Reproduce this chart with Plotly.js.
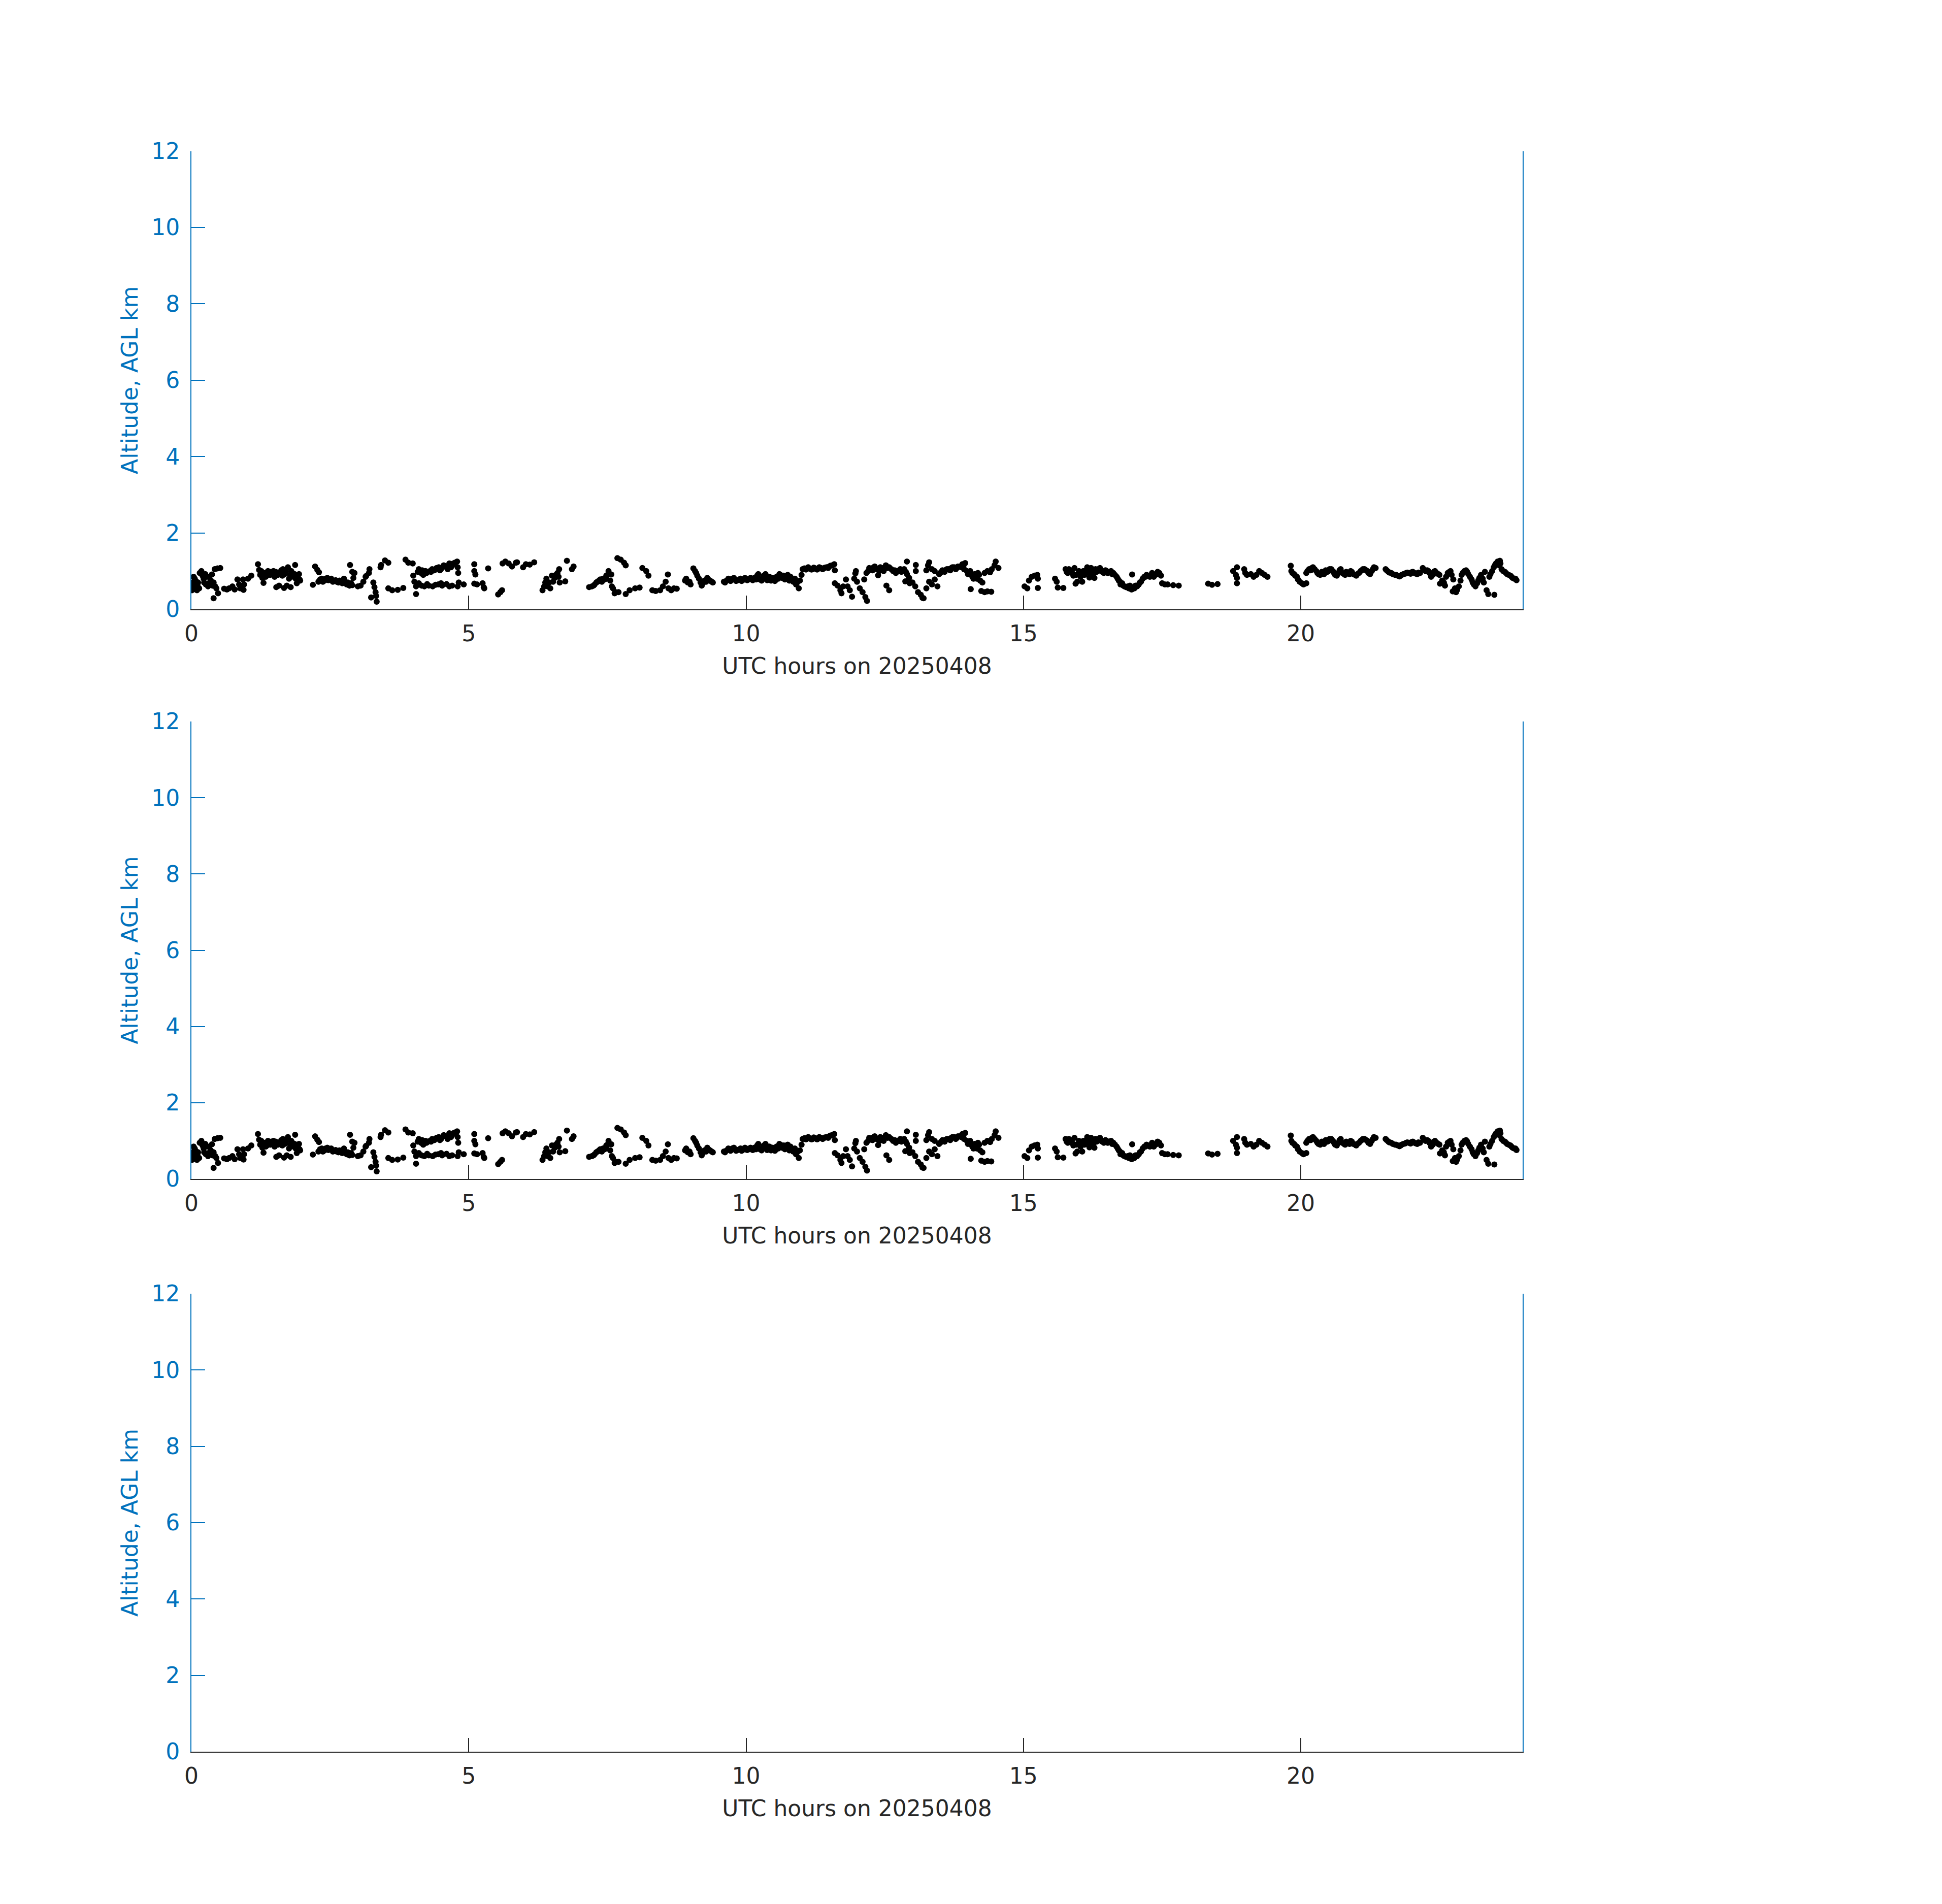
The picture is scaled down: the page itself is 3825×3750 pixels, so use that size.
<!DOCTYPE html>
<html>
<head>
<meta charset="utf-8">
<script src="https://cdn.plot.ly/plotly-3.0.1.min.js"></script>
<style>html,body{margin:0;padding:0;background:#fff;}</style>
</head>
<body>
<div id="chart" style="width:3825px;height:3750px;"></div>
<script>
// ---- data ----
const xTitle = "UTC hours on 20250408";
const yTitle = "Altitude, AGL km";
const xTickVals = [0, 5, 10, 15, 20];
const xTickText = ["0", "5", "10", "15", "20"];
const yTickVals = [0, 2, 4, 6, 8, 10, 12];
const yTickText = ["0", "2", "4", "6", "8", "10", "12"];

const utcHours = [
0.0,0.01,0.02,0.03,0.05,0.06,0.07,0.08,0.1,0.12,
0.15,0.18,0.2,0.22,
0.25,0.28,0.3,0.33,0.35,0.37,0.4,0.4,0.43,0.45,0.48,
0.42,0.47,0.52,
0.59,0.64,0.68,
0.74,0.78,0.83,0.86,0.88,0.93,0.94,0.95,
1.02,1.08,
1.2,1.22,
1.24,1.28,1.3,1.32,1.36,1.4,1.44,1.48,1.5,1.53,1.56,
1.6,1.62,1.65,1.67,1.7,1.72,1.74,1.76,1.78,1.79,1.8,1.84,1.87,1.88,1.9,1.92,1.95,1.96,
2.19,2.23,2.27,2.3,
2.29,2.35,2.4,2.45,2.5,2.55,2.6,2.65,2.7,2.75,2.8,2.85,2.86,2.9,2.9,2.92,2.94,3.0,
3.05,3.1,3.14,3.15,3.2,3.21,
3.24,3.28,3.3,3.32,3.33,3.34,
3.41,3.42,3.49,3.55,
3.55,3.62,3.72,3.82,
3.86,3.91,3.99,
4.0,4.02,4.05,4.05,4.1,4.1,4.14,4.15,4.18,4.2,4.22,4.26,4.28,4.3,4.34,4.35,4.38,4.42,4.45,4.46,4.5,4.52,4.55,4.6,4.6,4.65,4.7,4.7,
4.79,4.8,4.81,4.8,4.82,4.91,
5.1,5.1,5.12,5.1,5.15,5.25,5.27,5.28,5.35,
5.53,5.57,5.6,
5.61,5.66,5.72,5.78,5.85,5.87,
5.98,6.03,6.1,6.18,
6.33,6.36,6.4,6.45,6.47,6.5,6.55,6.6,6.63,6.64,6.74,
6.77,6.86,6.89,
7.17,7.22,7.27,7.32,7.37,7.42,7.47,7.5,7.52,7.55,7.57,7.58,7.6,7.63,7.65,7.7,
7.68,7.74,7.8,7.83,
7.83,7.9,8.0,8.08,
8.13,8.2,8.24,
8.31,8.37,8.45,8.5,8.55,8.59,8.6,8.65,8.7,8.75,
8.9,8.95,9.0,9.05,9.08,9.1,9.15,9.2,9.25,9.3,9.35,9.4,
9.6,9.65,9.7,9.75,9.8,9.85,9.9,9.95,10.0,10.05,10.1,10.15,10.2,10.25,10.3,10.35,10.4,10.45,10.5,10.55,10.6,10.62,10.65,10.7,10.75,10.78,10.8,10.85,10.9,10.95,10.97,11.0,11.02,
11.05,11.1,11.15,11.2,11.25,11.3,11.35,11.4,11.45,11.5,11.55,11.59,11.6,
11.6,11.65,11.7,11.72,11.75,11.8,11.83,11.87,11.91,11.95,11.97,11.98,12.0,12.05,12.1,12.13,12.15,12.18,
12.17,12.2,12.25,12.3,12.35,12.38,12.4,12.45,12.5,12.52,12.55,
12.53,12.58,
12.58,12.65,12.7,12.75,12.8,12.85,12.9,12.9,12.94,13.06,13.06,
12.87,12.95,13.0,
13.05,13.1,13.15,13.18,13.2,13.25,13.3,13.35,13.4,13.45,
13.25,13.28,13.3,13.35,13.4,
13.48,13.52,13.56,13.6,13.65,13.7,13.75,13.8,13.85,13.9,13.95,
13.93,13.98,14.02,14.06,14.1,14.14,14.18,14.22,14.26,
14.05,14.24,14.3,14.35,14.42,
14.3,14.35,14.4,
14.43,14.48,14.5,14.55,
15.02,15.07,15.1,15.15,15.2,15.25,15.26,15.26,
15.57,15.6,15.62,15.72,
15.76,15.8,15.85,15.9,15.92,15.94,15.95,15.97,16.0,16.03,16.06,16.08,16.1,16.15,16.19,16.2,16.25,16.28,16.3,16.35,16.4,16.45,16.5,16.55,16.6,16.65,16.68,16.72,16.75,16.8,16.85,16.9,16.95,16.96,17.0,17.05,17.08,17.12,17.15,17.2,17.25,17.3,17.35,17.4,17.45,17.48,17.5,17.55,17.6,17.7,17.8,
18.33,18.4,18.5,
18.78,18.83,18.85,18.85,18.85,18.98,19.0,19.03,
19.1,19.15,19.2,19.25,19.3,19.35,19.4,
19.82,19.83,19.88,19.93,19.98,20.05,20.1,
20.1,20.15,20.2,20.25,20.3,20.35,20.4,20.45,20.5,20.55,20.6,20.65,20.7,20.75,20.8,20.85,20.9,20.95,21.0,21.05,21.1,21.15,21.2,21.25,21.3,21.35,
21.53,21.58,21.63,21.7,21.75,21.8,21.85,21.9,21.95,22.0,22.05,22.1,22.15,
22.2,22.25,22.3,22.35,22.4,22.45,22.5,22.51,22.55,22.6,22.62,22.65,22.7,22.74,22.75,22.78,22.8,22.82,22.85,22.9,22.95,23.0,23.05,23.1,23.15,23.2,23.25,23.3,23.32,23.35,23.38,23.49,
23.4,23.45,23.5,23.55,23.59,23.6,23.62,23.65,23.7,23.75,23.8,23.85,23.89,
// additional points in dense stretches
0.04,0.09,0.11,0.14,0.23,0.26,0.32,0.38,
1.26,1.34,1.38,1.42,1.46,1.52,1.58,1.64,1.68,1.82,1.86,1.94,
2.32,2.37,2.42,2.47,2.52,2.57,2.62,2.67,2.72,2.77,2.82,2.88,
4.08,4.12,4.16,4.24,4.32,4.4,4.48,4.58,4.62,4.68,4.72,4.75,4.25,4.4,4.5,4.65,
6.38,6.42,6.52,6.57,6.62,
7.25,7.3,7.35,7.4,7.45,7.48,
8.92,8.98,9.12,9.18,9.22,9.28,9.32,9.38,
9.62,9.68,9.72,9.78,9.82,9.88,9.92,9.98,10.02,10.08,10.12,10.18,10.22,10.28,10.32,10.38,10.42,10.48,10.52,10.58,10.68,10.72,10.82,10.88,10.92,
11.08,11.12,11.18,11.22,11.28,11.32,11.38,11.42,11.48,11.52,
12.22,12.28,12.32,12.42,12.48,
12.62,12.68,12.72,12.78,12.82,12.88,
13.5,13.54,13.58,13.62,13.68,13.72,13.78,13.82,13.88,13.92,14.0,14.04,14.08,14.12,14.16,14.2,
15.78,15.82,15.88,16.02,16.12,16.18,16.22,16.26,16.32,16.38,16.42,16.48,16.52,16.58,16.62,16.7,16.74,16.78,16.82,16.88,16.92,16.98,17.02,17.1,17.18,17.22,17.28,17.32,17.38,17.42,
19.85,19.9,19.95,20.02,
20.12,20.18,20.22,20.28,20.32,20.38,20.42,20.48,20.52,20.58,20.62,20.68,20.72,20.78,20.82,20.88,20.92,20.98,21.02,21.08,21.12,21.18,21.22,21.28,21.32,
21.55,21.6,21.66,21.72,21.78,21.82,21.88,21.92,21.98,22.02,22.08,22.12,
22.22,22.28,22.32,22.38,22.42,22.48,22.58,22.68,22.72,22.88,22.92,22.98,23.02,23.08,23.12,23.18,23.22,23.28,23.42,23.48,23.52,23.58,23.68,23.72,23.78,23.82,23.87
];

const altitudeKm = [
0.6,0.5,0.7,0.55,0.65,0.8,0.75,0.6,0.5,0.7,
0.95,1.0,0.88,0.8,
0.92,0.85,0.6,0.7,0.75,0.91,0.7,0.29,0.6,0.55,0.42,
1.05,1.07,1.08,
0.54,0.52,0.55,
0.6,0.52,0.78,0.65,0.55,0.78,0.51,0.65,
0.8,0.88,
1.18,1.03,
0.9,0.82,0.69,0.95,0.88,0.95,0.98,1.0,0.85,0.58,0.9,
0.95,1.02,1.05,0.56,0.98,0.62,1.1,0.8,0.9,0.58,1.0,0.85,1.16,0.8,0.68,0.88,0.78,0.75,
0.64,1.12,1.03,0.97,
0.72,0.8,0.75,0.82,0.78,0.72,0.76,0.7,0.72,0.8,0.65,0.62,1.16,0.98,0.63,0.82,0.95,0.6,
0.62,0.72,0.85,0.87,0.95,1.05,
0.31,0.7,0.58,0.45,0.35,0.2,
1.1,1.16,1.28,1.22,
0.55,0.5,0.51,0.56,
1.3,1.22,1.2,
0.88,0.72,0.6,0.4,1.05,0.68,0.95,0.62,0.9,0.6,1.0,0.98,0.62,1.0,1.05,0.6,1.02,1.08,0.65,1.1,1.05,0.62,1.15,1.1,0.66,1.2,1.15,0.62,
1.25,1.1,0.95,0.6,0.7,0.65,
1.18,1.0,0.91,0.67,0.65,0.68,0.58,0.55,1.07,
0.39,0.45,0.5,
1.2,1.25,1.2,1.12,1.22,1.23,
1.1,1.18,1.17,1.23,
0.5,0.6,0.8,0.7,0.55,0.88,0.82,0.95,1.05,0.7,0.73,
1.27,1.05,1.12,
0.58,0.6,0.65,0.72,0.78,0.8,0.82,0.9,1.0,0.75,0.91,0.6,0.55,0.42,0.45,0.45,
1.34,1.3,1.22,1.15,
0.4,0.5,0.55,0.57,
1.08,1.0,0.88,
0.5,0.48,0.5,0.6,0.72,0.91,0.55,0.5,0.55,0.54,
0.75,0.7,0.65,1.07,1.0,0.95,0.8,0.62,0.75,0.82,0.75,0.7,
0.72,0.75,0.78,0.8,0.78,0.76,0.8,0.77,0.8,0.78,0.8,0.82,0.88,0.78,0.82,0.92,0.8,0.75,0.78,0.85,0.92,0.9,0.82,0.78,0.9,0.75,0.85,0.72,0.65,0.55,0.75,0.9,1.05,
1.07,1.08,1.06,1.05,1.07,1.06,1.08,1.07,1.1,1.12,1.15,1.18,1.02,
0.68,0.62,0.5,0.42,0.6,0.78,0.6,0.5,0.33,0.8,0.94,1.0,0.72,0.55,0.45,0.78,0.32,0.22,
0.95,1.0,1.05,1.1,1.05,0.89,1.0,1.05,1.1,1.15,1.08,
0.62,0.5,
1.1,1.0,0.95,1.0,0.98,1.05,1.25,0.92,0.82,1.16,1.0,
0.73,0.68,0.7,
0.6,0.45,0.38,0.3,0.29,0.55,0.72,0.65,0.78,0.6,
1.02,1.15,1.23,1.05,1.0,
0.92,0.98,1.0,1.03,1.05,1.08,1.1,1.08,1.12,1.18,1.21,
1.05,1.0,0.95,0.9,0.8,0.85,0.95,0.75,0.7,
0.53,0.48,0.45,0.47,0.46,
0.95,1.0,0.97,
1.05,1.15,1.25,1.08,
0.6,0.55,0.75,0.85,0.88,0.9,0.8,0.56,
0.8,0.72,0.57,0.56,
1.05,0.95,1.02,0.88,1.08,0.67,0.9,0.72,1.0,0.85,0.72,1.0,0.9,1.1,0.83,1.05,1.0,0.82,1.05,1.05,1.0,0.95,1.0,0.98,0.92,0.9,0.85,0.75,0.65,0.62,0.58,0.55,0.52,0.91,0.55,0.6,0.65,0.72,0.8,0.85,0.88,0.9,0.85,0.92,0.95,0.88,0.68,0.65,0.65,0.63,0.62,
0.67,0.64,0.66,
1.0,0.9,1.1,0.82,0.68,1.05,0.95,0.9,
0.92,0.85,0.9,1.0,0.95,0.9,0.85,
1.14,1.0,0.92,0.85,0.72,0.65,0.68,
0.95,1.05,1.08,1.05,0.95,0.9,0.95,1.02,1.0,1.05,0.95,0.88,1.02,0.95,0.9,0.95,1.0,0.92,0.88,0.95,1.02,1.05,1.0,0.92,1.05,1.08,
1.05,0.98,0.95,0.9,0.88,0.88,0.92,0.95,0.95,0.97,0.95,0.92,0.95,
1.08,1.0,1.0,0.85,0.98,0.95,0.9,0.67,0.75,0.62,0.85,0.95,1.0,0.47,0.78,0.55,0.45,0.51,0.6,0.9,1.0,0.98,0.85,0.7,0.6,0.75,0.9,0.7,0.98,0.5,0.4,0.38,
0.85,1.0,1.15,1.25,1.27,1.2,1.05,1.0,0.95,0.9,0.85,0.8,0.76,
// additional points in dense stretches
0.85,0.72,0.62,0.55,0.7,0.65,0.85,0.62,
1.0,0.85,1.0,0.9,0.92,0.98,0.62,0.88,0.92,0.95,0.92,0.92,
0.78,0.72,0.8,0.76,0.8,0.74,0.72,0.75,0.68,0.72,0.7,0.68,
0.98,1.0,1.02,0.95,0.98,1.05,1.02,1.12,1.05,1.1,1.2,1.22,0.66,0.64,0.68,0.6,
0.7,0.6,0.72,0.9,0.85,
0.62,0.7,0.75,0.72,0.78,0.88,
0.8,0.72,0.88,0.7,0.68,0.72,0.78,0.72,
0.7,0.8,0.74,0.82,0.74,0.78,0.74,0.82,0.76,0.82,0.76,0.78,0.92,0.75,0.88,0.76,0.85,0.82,0.74,0.8,0.88,0.82,0.78,0.8,0.7,
1.04,1.1,1.04,1.09,1.04,1.1,1.05,1.09,1.08,1.14,
1.08,1.02,1.12,1.1,1.0,
1.05,1.02,1.0,1.05,1.0,0.98,
0.95,1.02,0.98,1.05,1.02,1.1,1.05,1.12,1.1,1.15,0.92,1.0,0.85,0.92,0.8,0.9,
0.98,1.05,0.95,0.95,1.0,0.95,1.08,0.92,0.98,1.08,0.98,1.02,0.95,1.0,0.95,0.8,0.72,0.68,0.6,0.6,0.62,0.58,0.62,0.7,0.85,0.9,0.85,0.95,0.9,0.98,
0.95,0.88,0.78,0.68,
1.0,1.02,1.1,1.0,0.92,0.98,0.92,0.98,1.05,1.0,0.9,0.95,1.05,0.92,0.98,0.92,0.98,0.9,0.92,1.0,1.05,1.02,0.95,1.0,1.1,
1.02,0.96,0.92,0.9,0.86,0.9,0.93,0.96,0.93,0.98,0.93,0.96,
1.04,1.02,0.95,0.9,1.0,0.92,0.7,0.98,0.9,0.75,0.95,1.02,0.92,0.78,0.65,0.68,0.82,0.8,0.92,1.1,1.2,1.15,0.98,0.92,0.88,0.82,0.8
];

// ---- chart ----
const FONT = "DejaVu Sans";
const BLUE = "#0072BD";
const DARK = "#262626";
const xDomain = [377/3825, 2999/3825];
const yDomains = [
  [1 - 1200/3750, 1 - 297.6/3750],
  [1 - 2322/3750, 1 - 1421/3750],
  [1 - 3450/3750, 1 - 2548/3750]
];

function xAxis(anchor) {
  return {
    domain: xDomain, anchor: anchor, range: [0, 24],
    tickmode: "array", tickvals: xTickVals, ticktext: xTickText,
    ticks: "inside", ticklen: 27, tickwidth: 2, tickcolor: DARK,
    showline: true, linecolor: DARK, linewidth: 2, mirror: false,
    showgrid: false, zeroline: false,
    ticklabelstandoff: 8,
    tickfont: {family: FONT, size: 44, color: DARK},
    title: {text: xTitle, font: {family: FONT, size: 44, color: DARK}, standoff: 24}
  };
}
function yAxis(anchor, dom) {
  return {
    domain: dom, anchor: anchor, range: [0, 12],
    tickmode: "array", tickvals: yTickVals, ticktext: yTickText,
    ticks: "inside", ticklen: 27, tickwidth: 2, tickcolor: BLUE,
    showline: true, linecolor: BLUE, linewidth: 2, mirror: true,
    showgrid: false, zeroline: false,
    ticklabelstandoff: 12,
    tickfont: {family: FONT, size: 44, color: BLUE},
    title: {text: yTitle, font: {family: FONT, size: 44, color: BLUE}, standoff: 13}
  };
}

const marker = {color: "#000000", size: 12, line: {width: 0}};
const traces = [
  {x: utcHours, y: altitudeKm, type: "scatter", mode: "markers", marker: marker, xaxis: "x", yaxis: "y", hoverinfo: "skip"},
  {x: utcHours, y: altitudeKm, type: "scatter", mode: "markers", marker: marker, xaxis: "x2", yaxis: "y2", hoverinfo: "skip"},
  {x: [], y: [], type: "scatter", mode: "markers", marker: marker, xaxis: "x3", yaxis: "y3", hoverinfo: "skip"}
];

const layout = {
  width: 3825, height: 3750,
  margin: {l: 0, r: 0, t: 0, b: 0},
  paper_bgcolor: "#ffffff", plot_bgcolor: "#ffffff",
  showlegend: false,
  font: {family: FONT},
  xaxis: xAxis("y"), yaxis: yAxis("x", yDomains[0]),
  xaxis2: xAxis("y2"), yaxis2: yAxis("x2", yDomains[1]),
  xaxis3: xAxis("y3"), yaxis3: yAxis("x3", yDomains[2])
};

Plotly.newPlot("chart", traces, layout, {staticPlot: true, displayModeBar: false});
</script>
</body>
</html>
